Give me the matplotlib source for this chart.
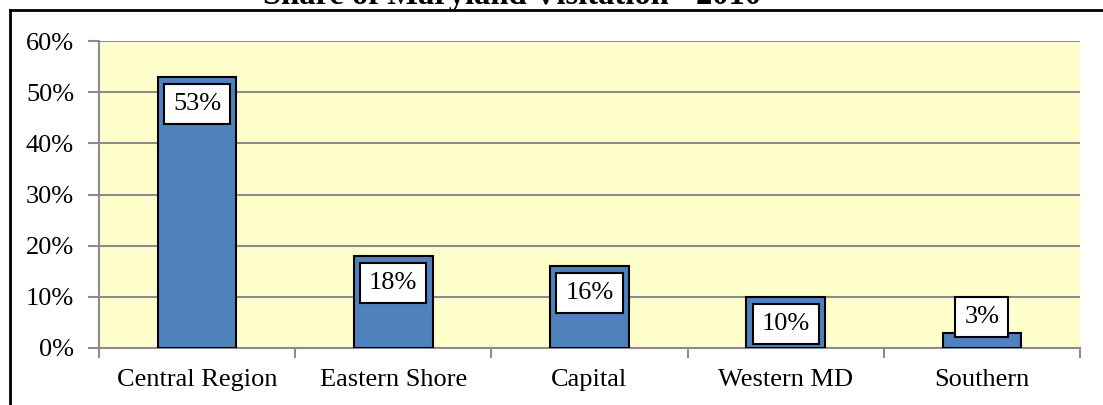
import matplotlib.pyplot as plt
from matplotlib.lines import Line2D

# data
regions = ['Central Region', 'Eastern Shore', 'Capital', 'Western MD', 'Southern']
shares = [0.53, 0.18, 0.16, 0.10, 0.03]
yticks = [0, 0.1, 0.2, 0.3, 0.4, 0.5, 0.6]
title = 'Share of Maryland Visitation - 2010'

plt.rcParams['font.family'] = ['Liberation Serif', 'DejaVu Serif']

W, H = 1103, 405
fig = plt.figure(figsize=(W / 100, H / 100), dpi=100)
ax = fig.add_axes([99 / W, 1 - 348 / H, (1080 - 99) / W, (348 - 41) / H])

ax.set_facecolor('#FFFFCC')
x = range(len(regions))
bars = ax.bar(x, shares, width=0.4, color='#4F81BD', edgecolor='black', linewidth=1.5, zorder=3)

ax.set_xlim(-0.5, len(regions) - 0.5)
ax.set_ylim(0, 0.6)
ax.set_yticks(yticks)
ax.set_yticklabels(['{:.0f}%'.format(v * 100) for v in yticks])
ax.yaxis.grid(True, color='#8C8C8C', linewidth=1.5, zorder=1)
ax.set_axisbelow(True)

ax.set_xticks(list(x))
ax.set_xticklabels(regions)
ax.set_xticks([i - 0.5 for i in range(len(regions) + 1)], minor=True)
ax.tick_params(axis='x', which='major', length=0, pad=15, labelsize=19)
ax.tick_params(axis='x', which='minor', length=7, width=1.5, color='#8C8C8C')
ax.tick_params(axis='y', length=8, width=1.5, color='#8C8C8C', pad=10, labelsize=19)

for s in ['top', 'right']:
    ax.spines[s].set_visible(False)
for s in ['left', 'bottom']:
    ax.spines[s].set_color('#8C8C8C')
    ax.spines[s].set_linewidth(1.5)

# value labels: inside the bar top, above it when the bar is too short
for xi, v in zip(x, shares):
    if v >= 0.05:
        off, va = -16, 'top'
    else:
        off, va = 5, 'bottom'
    ax.annotate('{:.0f}%'.format(v * 100), (xi, v), xytext=(0, off), textcoords='offset pixels',
                ha='center', va=va, fontsize=19, zorder=5,
                bbox=dict(boxstyle='square,pad=0.34', facecolor='white', edgecolor='black', linewidth=1.5))

# cropped title and frame
fig.text(512 / W, 1 - 4 / H, title, ha='center', va='baseline', fontsize=23.5, fontweight='bold')
fig.add_artist(Line2D([10 / W, 1], [1 - 10 / H, 1 - 10 / H], color='black', linewidth=2))
fig.add_artist(Line2D([10 / W, 10 / W], [0, 1 - 10 / H], color='black', linewidth=2))

fig.savefig('out.png', dpi=100)
